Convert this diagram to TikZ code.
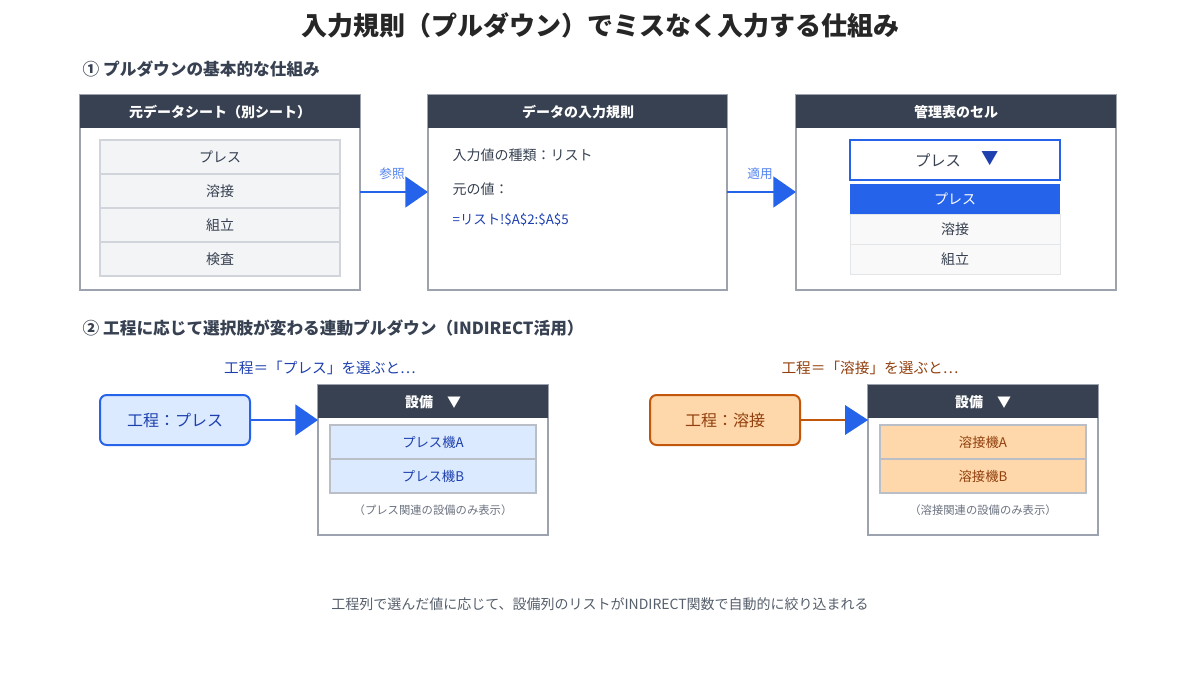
\documentclass[tikz,border=0pt]{standalone}
\usepackage{fontspec}
\setmainfont{Noto Sans CJK JP}
\usetikzlibrary{arrows.meta}
\definecolor{hdr}{HTML}{374151}
\definecolor{bord}{HTML}{9CA3AF}
\definecolor{blu}{HTML}{2563EB}
\definecolor{dblu}{HTML}{1E40AF}
\definecolor{lblu}{HTML}{DBEAFE}
\definecolor{org}{HTML}{FED7AA}
\definecolor{dorg}{HTML}{C2570C}
\definecolor{brn}{HTML}{92400E}
\definecolor{txt}{HTML}{374151}
\definecolor{gry}{HTML}{6B7280}
\definecolor{cell}{HTML}{F3F4F6}
\definecolor{cellb}{HTML}{D1D5DB}
\begin{document}
\begin{tikzpicture}[x=0.75pt,y=-0.75pt,
 fs/.style={font=\fontsize{#1}{#1}\selectfont},
 panel/.style={draw=bord,line width=1.2pt,fill=white},
 header/.style={fill=hdr},
 htext/.style={text=white,fs=10.5,font=\bfseries\fontsize{10.5}{10.5}\selectfont},
 item/.style={draw=cellb,fill=cell,line width=0.8pt},
 itext/.style={text=txt,fs=10.5},
 arr/.style={draw=blu,line width=2.2pt,-{Triangle[length=17pt,width=23pt]}},
 lbl/.style={text=blu!80!white,fs=9.5}]
\useasboundingbox (0,0) rectangle (1200,675);
\node[fs=19.5,font=\bfseries\fontsize{19.5}{19.5}\selectfont,text=black!85] (title) at (600,25) {入力規則（プルダウン）でミスなく入力する仕組み};
\node[anchor=west,font=\bfseries\fontsize{12.5}{12.5}\selectfont,text=txt] (s1) at (78,69) {① プルダウンの基本的な仕組み};
% box1
\draw[panel] (80,95) rectangle (360,290);
\fill[header] (80,95) rectangle (360,128);
\node[htext] (h1) at (220,112) {元データシート（別シート）};
\foreach \i/\t in {0/プレス,1/溶接,2/組立,3/検査}{
 \draw[item] (100,140+34*\i) rectangle (340,174+34*\i);
 \node[itext] (a\i) at (220,157+34*\i) {\t};}
% box2
\draw[panel] (428,95) rectangle (727,290);
\fill[header] (428,95) rectangle (727,128);
\node[htext] (h2) at (578,112) {データの入力規則};
\node[anchor=west,itext] (r1) at (448,155) {入力値の種類：リスト};
\node[anchor=west,itext] (r2) at (448,189) {元の値：};
\node[anchor=west,text=dblu,fs=10] (r3) at (448,220) {=リスト!\$A\$2:\$A\$5};
% box3
\draw[panel] (796,95) rectangle (1116,290);
\fill[header] (796,95) rectangle (1116,128);
\node[htext] (h3) at (956,112) {管理表のセル};
\draw[draw=blu,line width=1.5pt,fill=white] (850,140) rectangle (1060,180);
\node[itext,fs=11.5] (sel) at (938,160) {プレス};
\node[text=dblu,fs=13] (tri) at (990,159) {▼};
\fill[blu] (850,184) rectangle (1060,214);
\node[text=white,fs=10.5] (d1) at (955,199) {プレス};
\draw[draw=cellb!60,fill=gray!5,line width=0.6pt] (850,214) rectangle (1060,244);
\node[itext] (d2) at (955,229) {溶接};
\draw[draw=cellb!60,fill=gray!5,line width=0.6pt] (850,244) rectangle (1060,274);
\node[itext] (d3) at (955,259) {組立};
\coordinate (b1r) at (360,192); \coordinate (b2l) at (428,192);
\coordinate (b2r) at (727,192); \coordinate (b3l) at (796,192);
\draw[arr] (b1r) -- (b2l);
\draw[arr] (b2r) -- (b3l);
\node[lbl] (l1) at (392,174) {参照};
\node[lbl] (l2) at (760,174) {適用};
% section 2
\node[anchor=west,font=\bfseries\fontsize{12.5}{12.5}\selectfont,text=txt] (s2) at (78,328) {② 工程に応じて選択肢が変わる連動プルダウン（INDIRECT活用）};
\node[text=dblu,fs=11] (c1) at (320,368) {工程＝「プレス」を選ぶと…};
\node[text=brn,fs=11] (c2) at (870,368) {工程＝「溶接」を選ぶと…};
\node[draw=blu,fill=lblu,line width=1.5pt,rounded corners=5pt,minimum width=150*0.75pt,minimum height=50*0.75pt,text=dblu,fs=12] (p1) at (175,420) {工程：プレス};
\node[draw=dorg,fill=org,line width=1.5pt,rounded corners=5pt,minimum width=150*0.75pt,minimum height=50*0.75pt,text=brn,fs=12] (p2) at (725,420) {工程：溶接};
% eq boxes
\draw[panel] (318,385) rectangle (548,535);
\fill[header] (318,385) rectangle (548,418);
\node[htext] (e1) at (433,402) {設備\quad ▼};
\draw[draw=bord!70,fill=lblu,line width=0.8pt] (330,425) rectangle (536,459);
\draw[draw=bord!70,fill=lblu,line width=0.8pt] (330,459) rectangle (536,493);
\node[text=dblu,fs=10] (e1a) at (433,442) {プレス機A};
\node[text=dblu,fs=10] (e1b) at (433,476) {プレス機B};
\node[text=gry,fs=8.5] (n1) at (433,510) {（プレス関連の設備のみ表示）};
\draw[panel] (868,385) rectangle (1098,535);
\fill[header] (868,385) rectangle (1098,418);
\node[htext] (e2) at (983,402) {設備\quad ▼};
\draw[draw=bord!70,fill=org,line width=0.8pt] (880,425) rectangle (1086,459);
\draw[draw=bord!70,fill=org,line width=0.8pt] (880,459) rectangle (1086,493);
\node[text=brn,fs=10] (e2a) at (983,442) {溶接機A};
\node[text=brn,fs=10] (e2b) at (983,476) {溶接機B};
\node[text=gry,fs=8.5] (n2) at (983,510) {（溶接関連の設備のみ表示）};
\coordinate (q1) at (318,420); \coordinate (q2) at (868,420);
\draw[arr] (p1.east) -- (q1);
\draw[draw=dorg,line width=2.2pt] (p2.east) -- (846,420);
\fill[blu] (845,405) -- (868,420) -- (845,435) -- cycle;
\node[text=txt!85,fs=10.5] (foot) at (600,604) {工程列で選んだ値に応じて、設備列のリストがINDIRECT関数で自動的に絞り込まれる};
\end{tikzpicture}
\end{document}
